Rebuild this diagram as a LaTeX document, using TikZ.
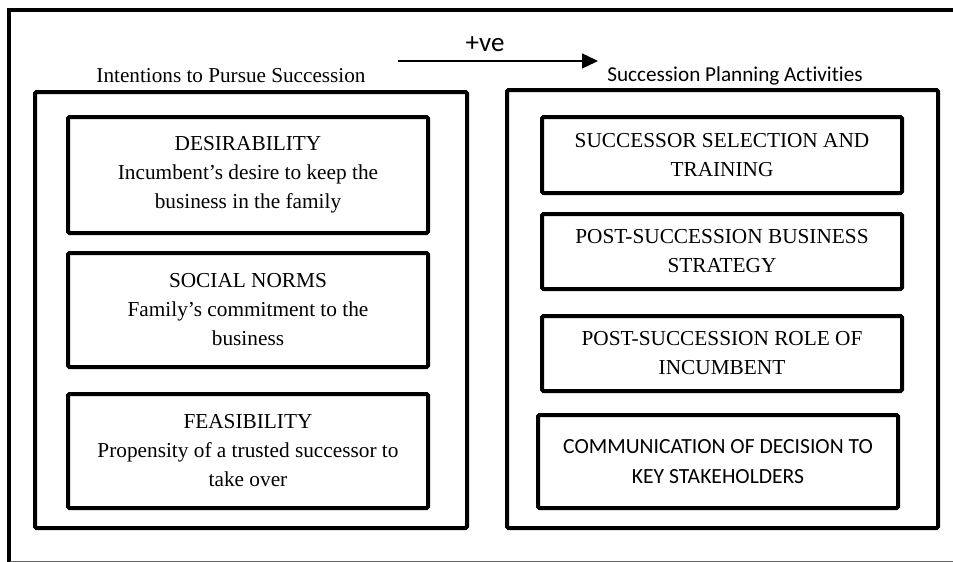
\documentclass[tikz,border=0pt]{standalone}
\usepackage{fontspec}
\setmainfont{Liberation Serif}
\newfontfamily\calib[Ligatures=NoCommon]{Carlito}
\usetikzlibrary{arrows.meta}
\begin{document}
\begin{tikzpicture}[x=1pt,y=-1pt,
  bigbox/.style={draw,line width=4pt,rounded corners=1.5pt,inner sep=0pt},
  itembox/.style={draw,line width=4pt,rounded corners=1.5pt,align=center,inner sep=0pt,
    minimum width=360pt,font=\fontsize{21.3}{29}\selectfont},
  sansitem/.style={itembox,font=\calib\fontsize{21.6}{30}\selectfont},
  heading/.style={inner sep=0pt,anchor=center}]
\useasboundingbox (0,0) rectangle (953,562);
% outer frame: heavy top and left rule, light bottom rule
\draw[line width=3.5pt] (953,10) -- (9,10) -- (9,562);
\draw[line width=1pt,black!60] (10,561) -- (953,561);

% group boxes
\node[bigbox,minimum width=432pt,minimum height=436pt] (lgroup) at (251,310) {};
\node[bigbox,minimum width=431pt,minimum height=438pt] (rgroup) at (722.5,309) {};

% group headings
\node[heading,font=\fontsize{21.2}{24}\selectfont] (lhead) at (231,76) {Intentions to Pursue Succession};
\node[heading,font=\calib\fontsize{21.2}{24}\selectfont] (rhead) at (735,76) {Succession Planning Activities};

% intentions
\node[itembox,minimum height=116pt] (des) at (248,175)
  {DESIRABILITY\\Incumbent’s desire to keep the\\business in the family};
\node[itembox,minimum height=114pt] (soc) at (248,310)
  {SOCIAL NORMS\\Family’s commitment to the\\business};
\node[itembox,minimum height=114pt] (fea) at (248,451)
  {FEASIBILITY\\Propensity of a trusted successor to\\take over};

% planning activities
\node[itembox,minimum height=76pt] (sel) at (722,155)
  {SUCCESSOR SELECTION AND\\TRAINING};
\node[itembox,minimum height=75pt] (strat) at (722,251.5)
  {POST-SUCCESSION BUSINESS\\STRATEGY};
\node[itembox,minimum height=75pt] (role) at (722,353.5)
  {POST-SUCCESSION ROLE OF\\INCUMBENT};
\node[sansitem,minimum height=93pt] (comm) at (718,461.5)
  {COMMUNICATION OF DECISION TO\\KEY STAKEHOLDERS};

% positive effect arrow
\coordinate (afrom) at (398,61);
\coordinate (ato) at (598,61);
\draw[line width=1.3pt,-{Triangle[length=16pt,width=15pt]}] (afrom) -- (ato)
  node[midway,above=5pt,xshift=-13pt,font=\calib\fontsize{27}{30}\selectfont] (sign) {+ve};
\end{tikzpicture}
\end{document}
